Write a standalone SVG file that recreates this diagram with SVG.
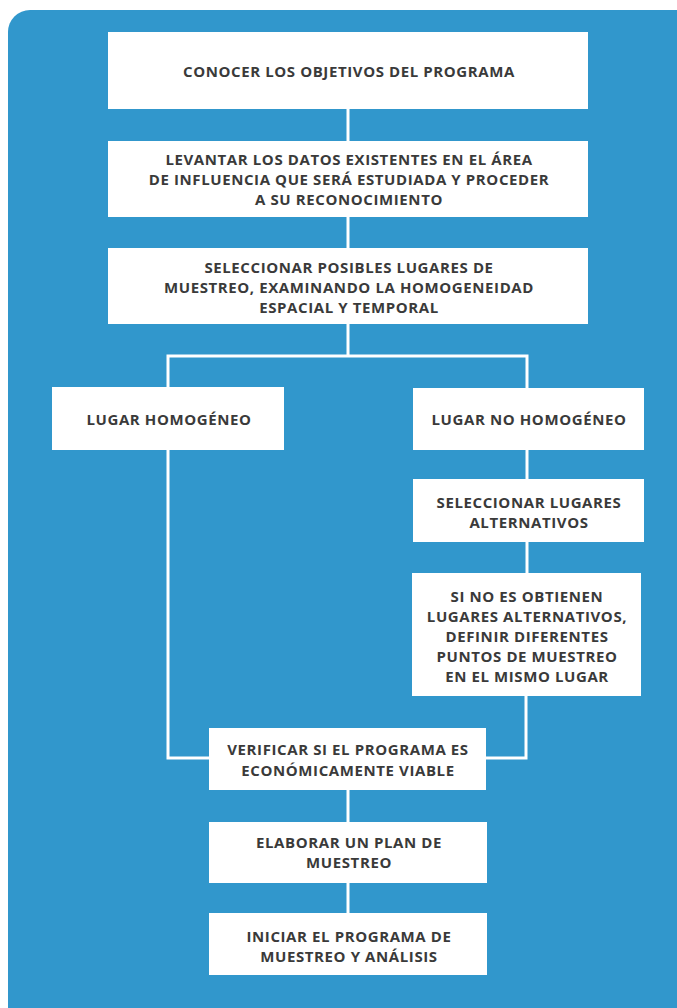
<svg xmlns="http://www.w3.org/2000/svg" width="677" height="1008" viewBox="0 0 677 1008">
<style>
.box{fill:#ffffff}
.t{font-family:"Open Sans","Liberation Sans",sans-serif;font-weight:700;font-size:15px;letter-spacing:0.6px;fill:#3a3a3a;text-anchor:middle}
.c{fill:none;stroke:#ffffff;stroke-width:3}
</style>
<rect x="8" y="10" width="700" height="1030" rx="22" fill="#3197cc"/>
<g id="connectors">
<path class="c" d="M348 108V141"/>
<path class="c" d="M348 217V248"/>
<path class="c" d="M348 323V356"/>
<path class="c" d="M168 387V356H527V388"/>
<path class="c" d="M527 450V479"/>
<path class="c" d="M527 542V573"/>
<path class="c" d="M168 450V758H210"/>
<path class="c" d="M526 696V758H486"/>
<path class="c" d="M348 790V822"/>
<path class="c" d="M348 883V913"/>
</g>
<g id="n1"><rect class="box" x="108" y="32" width="480" height="77"/><text class="t" x="349" y="77">CONOCER LOS OBJETIVOS DEL PROGRAMA</text></g>
<g id="n2"><rect class="box" x="108" y="141" width="480" height="76"/><text class="t" x="349" y="165">LEVANTAR LOS DATOS EXISTENTES EN EL ÁREA</text><text class="t" x="349" y="185">DE INFLUENCIA QUE SERÁ ESTUDIADA Y PROCEDER</text><text class="t" x="349" y="205">A SU RECONOCIMIENTO</text></g>
<g id="n3"><rect class="box" x="108" y="248" width="480" height="76"/><text class="t" x="349" y="273">SELECCIONAR POSIBLES LUGARES DE</text><text class="t" x="349" y="293">MUESTREO, EXAMINANDO LA HOMOGENEIDAD</text><text class="t" x="349" y="313">ESPACIAL Y TEMPORAL</text></g>
<g id="n4"><rect class="box" x="52" y="387" width="232" height="63"/><text class="t" x="169" y="425">LUGAR HOMOGÉNEO</text></g>
<g id="n5"><rect class="box" x="413" y="388" width="231" height="62"/><text class="t" x="529" y="425">LUGAR NO HOMOGÉNEO</text></g>
<g id="n6"><rect class="box" x="413" y="479" width="231" height="63"/><text class="t" x="529" y="508">SELECCIONAR LUGARES</text><text class="t" x="529" y="528">ALTERNATIVOS</text></g>
<g id="n7"><rect class="box" x="412" y="573" width="229" height="123"/><text class="t" x="527" y="602">SI NO ES OBTIENEN</text><text class="t" x="527" y="622">LUGARES ALTERNATIVOS,</text><text class="t" x="527" y="642">DEFINIR DIFERENTES</text><text class="t" x="527" y="662">PUNTOS DE MUESTREO</text><text class="t" x="527" y="682">EN EL MISMO LUGAR</text></g>
<g id="n8"><rect class="box" x="209" y="728" width="277" height="62"/><text class="t" x="348" y="755">VERIFICAR SI EL PROGRAMA ES</text><text class="t" x="348" y="776">ECONÓMICAMENTE VIABLE</text></g>
<g id="n9"><rect class="box" x="209" y="822" width="278" height="61"/><text class="t" x="349" y="848">ELABORAR UN PLAN DE</text><text class="t" x="349" y="868">MUESTREO</text></g>
<g id="n10"><rect class="box" x="209" y="913" width="278" height="62"/><text class="t" x="349" y="942">INICIAR EL PROGRAMA DE</text><text class="t" x="349" y="962">MUESTREO Y ANÁLISIS</text></g>
</svg>
